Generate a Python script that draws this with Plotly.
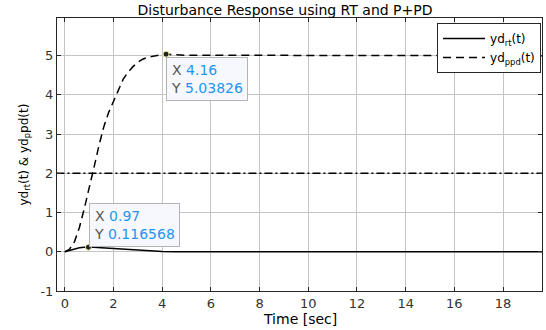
import plotly.graph_objects as go

# ---- data ----
t_rt = [0, 0.2, 0.4, 0.6, 0.8, 0.97, 1.2, 1.5, 2.0, 2.5, 3.0, 3.5, 4.0, 4.5, 5.0, 20]
yd_rt = [0, 0.04, 0.075, 0.1, 0.113, 0.116568, 0.114, 0.105, 0.085, 0.062, 0.04, 0.022, 0.01, 0.003, 0, 0]

t_ppd = [0, 0.2, 0.4, 0.6, 0.8, 1.0, 1.2, 1.4, 1.6, 1.8, 2.0, 2.2, 2.4, 2.6, 2.8, 3.0,
         3.2, 3.4, 3.6, 3.8, 4.0, 4.16, 4.5, 5, 20]
yd_ppd = [0, 0.07, 0.26, 0.62, 1.1, 1.6, 2.15, 2.7, 3.18, 3.55, 3.85, 4.15, 4.4, 4.58, 4.72, 4.83,
          4.91, 4.96, 4.99, 5.01, 5.03, 5.03826, 5.03, 5.01, 5.0]

ref_t = [-1, 21]
ref_level = [2, 2]

tip_rt = (0.97, 0.116568)
tip_ppd = (4.16, 5.03826)

x_ticks = list(range(0, 20, 2))
y_ticks = list(range(-1, 6))

FONT = "DejaVu Sans"
TIPBLUE = "#1e96f0"

fig = go.Figure()
fig.add_trace(go.Scatter(x=ref_t, y=ref_level, mode="lines", showlegend=False,
                         line=dict(color="black", width=1.5, dash="8px,3px,2px,3px"), hoverinfo="skip"))
fig.add_trace(go.Scatter(x=t_rt, y=yd_rt, mode="lines", name="yd<sub>rt</sub>(t)",
                         line=dict(color="black", width=1.5)))
fig.add_trace(go.Scatter(x=t_ppd, y=yd_ppd, mode="lines", name="yd<sub>ppd</sub>(t)",
                         line=dict(color="black", width=1.5, dash="8px,5px")))
fig.add_trace(go.Scatter(x=[tip_rt[0], tip_ppd[0]], y=[tip_rt[1], tip_ppd[1]], mode="markers",
                         showlegend=False,
                         marker=dict(color="#222222", size=6, line=dict(color="#f5f0a0", width=1))))

def tip_text(x, y):
    return (f"<span style='color:#555555'>X</span> <span style='color:{TIPBLUE}'>{x:g}</span><br>"
            f"<span style='color:#555555'>Y</span> <span style='color:{TIPBLUE}'>{y:g}</span>")

fig.add_annotation(x=tip_ppd[0], y=tip_ppd[1], xref="x", yref="y", text=tip_text(*tip_ppd),
                   showarrow=False, xanchor="left", yanchor="top", align="left",
                   xshift=0, yshift=-3, bgcolor="#f7f8fd", bordercolor="#b4b4b4", borderwidth=1,
                   borderpad=4, font=dict(family=FONT, size=14))
fig.add_annotation(x=tip_rt[0], y=tip_rt[1], xref="x", yref="y", text=tip_text(*tip_rt),
                   showarrow=False, xanchor="left", yanchor="bottom", align="left",
                   xshift=1, yshift=0, bgcolor="#f7f8fd", bordercolor="#b4b4b4", borderwidth=1,
                   borderpad=4, font=dict(family=FONT, size=14))

# axis titles as paper annotations
fig.add_annotation(x=0.5, y=-28 / 273, xref="paper", yref="paper", text="Time [sec]",
                   showarrow=False, xanchor="center", yanchor="middle",
                   font=dict(family=FONT, size=14, color="black"))
fig.add_annotation(x=-33 / 485, y=0.5, xref="paper", yref="paper",
                   text="yd<sub>rt</sub>(t) & yd<sub>p</sub>pd(t)", textangle=-90,
                   showarrow=False, xanchor="center", yanchor="middle",
                   font=dict(family=FONT, size=12, color="black"))

axis_common = dict(showline=True, linecolor="#262626", linewidth=1, mirror="ticks",
                   ticks="inside", ticklen=4, tickcolor="#262626", automargin=False,
                   showgrid=True, gridcolor="#c4c4c4", gridwidth=1, zeroline=False,
                   tickfont=dict(family=FONT, size=13, color="#333333"))

fig.update_layout(
    width=546, height=330,
    margin=dict(l=57, r=4, t=18, b=39, autoexpand=False),
    paper_bgcolor="white", plot_bgcolor="white",
    font=dict(family=FONT, size=13, color="black"),
    title=dict(text="Disturbance Response using RT and P+PD", x=285 / 546, xanchor="center",
               y=1 - 10 / 330, yanchor="middle", font=dict(family=FONT, size=14, color="black")),
    xaxis=dict(range=[-0.32, 19.6], tickvals=x_ticks, ticktext=[str(v) for v in x_ticks],
               **axis_common),
    yaxis=dict(range=[-1, 5.96], tickvals=y_ticks, ticktext=[str(v) for v in y_ticks],
               **axis_common),
    legend=dict(x=0.998, xanchor="right", y=1 - 5 / 273, yanchor="top",
                bgcolor="white", bordercolor="#262626", borderwidth=1,
                font=dict(family=FONT, size=12, color="black"),
                tracegroupgap=0, itemwidth=42),
    showlegend=True,
)

fig.write_html("out.html", config={"displayModeBar": False},
               post_script="document.body.style.margin='0';document.body.style.padding='0';")
